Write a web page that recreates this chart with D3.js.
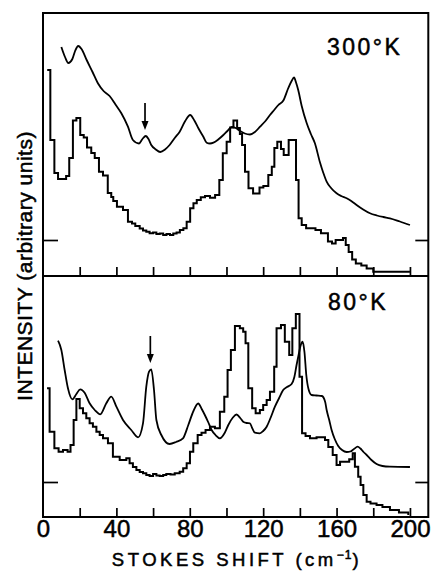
<!DOCTYPE html>
<html>
<head>
<meta charset="utf-8">
<script src="https://cdn.jsdelivr.net/npm/d3@7"></script>
<style>
  body { margin: 0; background: #fff; }
  text { font-family: "Liberation Sans", Arial, sans-serif; fill: #000; stroke: #000; stroke-width: 0.5px; }
</style>
</head>
<body>
<div id="chart"></div>
<script>
// Raman spectra (smooth) and histograms, 300K and 80K, intensity in arbitrary units

// x ticks
const minorTicks = [20, 40, 60, 80, 100, 120, 140, 160, 180, 200];
const tickLabels = [0, 40, 80, 120, 160, 200];
const baseLevel300 = 36;
const baseLevel80 = 35;

// 300K smooth spectrum [shift, intensity]
const smooth300 = [[10,229],[12,219],[13.8,213],[16,217],[17.5,225],[19.2,230],[21,227],[23.8,216],[27,204],[30,192.5],[33,185],[36.3,180],[39.5,171.5],[42.7,162.7],[46.3,149.3],[49,136],[52.3,132.5],[54.2,137],[56,140],[57.5,137],[59,131],[61.5,126.5],[63.9,124],[66.5,126.5],[69,131],[72,138.5],[74.5,144.3],[77.5,155],[80.2,161],[82.5,155.5],[84.7,147.7],[87.4,139.3],[89.2,133.3],[91,132.5],[92.9,133.3],[95.5,136.5],[98.3,141],[100.5,145],[102.9,149],[105,148],[107.4,145],[110,142.5],[112.8,141.5],[115.5,144],[118.3,149.3],[121,154.5],[123.7,161],[126,166],[128.3,171],[131,175.5],[133.7,188],[135.5,195],[136.8,198.5],[138,193],[139.1,186],[141,170],[143.7,153],[146,142],[148.2,132.7],[150.9,114],[152.8,103],[154.6,94.3],[157,88],[160,82.7],[162.5,80],[165.5,77.7],[168,75],[170.9,71],[174.5,66.5],[178.2,62.7],[182,60.5],[185.5,59],[189.1,57.7],[194.5,54.5],[200,51]];

// 300K histogram [bin start, intensity]
const hist300 = [[2.3,206],[4.0,136],[6.2,103],[8.2,97],[12.6,100],[14.3,118],[16.3,155.5],[18.2,158],[20.3,141],[22.2,138.5],[24.0,128.5],[26.3,123],[28.2,118],[30.5,104.3],[32.7,100.5],[35.3,83],[37.2,79],[38.3,75],[40.3,69.3],[43.6,66],[46.3,54.3],[48.5,52.5],[50.3,50],[52.7,47.5],[54.5,45.5],[56.3,44.3],[58.1,42.7],[60,43.5],[61.8,42],[63.6,42.5],[65.5,41],[67.3,42],[69.2,41],[71,42.5],[72.8,43.5],[74.6,46],[76.5,47.7],[78.3,54.3],[80.2,67.7],[82,72.7],[83.8,76],[86,78.7],[88.3,80],[91,78.3],[93.8,81],[96.1,96],[98,122.7],[100.1,134.3],[102,148.5],[103.8,155.5],[105.8,148],[107.3,142],[108.5,131],[110.1,104.3],[112,87.7],[114.5,82.5],[118,88.5],[120.1,90],[122.8,101],[124.7,109.3],[126.1,128],[127.7,134.3],[129.7,127],[131.2,121],[133.9,136],[137.9,96],[139.3,57.7],[141,51],[143.4,47.7],[148.5,46],[151.5,42.7],[155.3,34.5],[157.5,32.5],[159.5,36],[163.5,38],[165,31],[166.6,24],[168.5,16.5],[170.5,12.5],[173.5,10.5],[176.4,7.5],[180,4.3],[200,4.3]];

// 80K smooth spectrum
const smooth80 = [[8.2,176.3],[10,167],[11.8,147],[13.6,128.7],[16,117.7],[18.2,123],[20.3,127.7],[22.7,124.3],[25.4,113.7],[28.2,107],[31.2,102.7],[34.5,113.7],[37.2,120.3],[40,110.3],[43.6,97],[48.1,87],[51.8,79.7],[54.5,93.7],[56.3,130.3],[57.8,145.3],[59,147.7],[60.5,127],[61.8,97],[64.5,82],[69,73],[72.5,75],[76.3,78.7],[79.2,92],[82,106],[84.6,113.5],[86.5,108],[88.2,102],[90,95],[91.9,87],[94,82],[96.4,78.7],[99,84],[101,92],[103.5,99.5],[105.5,102.5],[107.5,99],[109.1,95.3],[111,94],[112.8,93.7],[114,89],[115.5,84.3],[118.2,83.7],[120,86],[121.9,90.3],[124,99],[126.4,110.3],[128.7,119],[130.9,127],[133,130],[135.5,133],[137,140],[138.2,152],[139.3,162],[140.5,172],[141.5,175.3],[142.5,165],[143.5,142],[144.7,128],[146.4,122],[149,121.5],[152,121],[153.8,115],[154.6,107],[156,97],[157.3,87],[159,78],[160.9,71],[163,67],[165.5,65],[167.5,65.5],[169.5,68],[171.5,70.3],[173,68.5],[174.7,65],[176.4,62],[179,57],[181.8,53],[185,51],[189.1,50.3],[200,50]];

// 80K histogram
const hist80 = [[2.2,128.7],[3.6,85.3],[6.2,68.7],[8.5,65.3],[10.9,67],[13.4,65.3],[15,72],[16.7,97],[18.2,118],[20,108.7],[21.8,103.7],[23.6,98.7],[25.4,93.7],[27.2,90.3],[29.1,85.3],[30.9,82],[32.7,78.7],[35.4,73.7],[38.1,60.3],[41.8,57],[45.4,58.7],[47.2,53.7],[49,50],[50.9,47],[52.7,45],[54.5,43.7],[56.3,42],[58.1,41],[60,43],[61.8,41.5],[63.6,41],[65.5,42],[67.2,43],[69.5,42.5],[71.8,43.7],[74.5,45.3],[76.4,48.7],[78.3,53.7],[80.1,65.3],[81.9,73.7],[84.3,82],[86.4,84.3],[88.6,87],[91,90.3],[93.7,88.7],[96.4,105.3],[98.8,120.3],[100.6,147],[102.4,167],[104.6,191],[107.3,188.7],[109.1,185.3],[110.4,173.7],[111.9,128.7],[114,108.7],[115.9,103.7],[118.2,107],[120,112],[121.9,117],[123.7,125.3],[126,150.3],[127.3,188.7],[129.7,192],[131.8,175.3],[134.2,162],[135.9,188.7],[137.8,203],[139.8,140.3],[141.2,83.7],[143.1,81],[145.5,78.7],[149.1,79.7],[153.7,77],[155.5,70],[157.9,62],[160,52],[161.9,55.3],[164.6,55.3],[166.9,57.7],[168.8,63.7],[170,50.3],[171.8,40.3],[173.1,32],[174.6,22],[176.4,15.3],[178.5,13.5],[181.8,12],[185,10],[189.1,7],[194,4.5],[199.1,2]];

// arrows marking the same line in both spectra [shift, tail, tip]
const arrow300 = [55.6, 173, 146];
const arrow80 = [58.5, 181, 154];

const width = 434, height = 572;
const svg = d3.select("#chart").append("svg")
  .attr("width", width)
  .attr("height", height);

svg.append("rect").attr("width", width).attr("height", height).attr("fill", "#fff");

const x = d3.scaleLinear().domain([0, 210]).range([43, 428.3]);
const yTop = d3.scaleLinear().domain([0, 263]).range([276, 13]);
const yBot = d3.scaleLinear().domain([0, 241]).range([517, 276]);

// one panel: ticks, both traces, arrow
function drawPanel(y, smooth, hist, base, arrow) {
  // ticks pointing up from panel floor
  svg.append("g")
    .attr("transform", `translate(0,${y.range()[0]})`)
    .call(d3.axisBottom(x).tickValues(minorTicks).tickSizeInner(-9).tickSizeOuter(0).tickFormat(""))
    .call(g => g.select(".domain").remove())
    .call(g => g.selectAll("line").attr("stroke-width", 1.7));

  // baseline markers on both sides
  svg.append("g")
    .attr("transform", `translate(${x.range()[0]},0)`)
    .call(d3.axisLeft(y).tickValues([base]).tickSizeInner(-15).tickSizeOuter(0).tickFormat(""))
    .call(g => g.select(".domain").remove())
    .call(g => g.selectAll("line").attr("stroke-width", 1.7));
  svg.append("g")
    .attr("transform", `translate(${x.range()[1]},0)`)
    .call(d3.axisRight(y).tickValues([base]).tickSizeInner(-13).tickSizeOuter(0).tickFormat(""))
    .call(g => g.select(".domain").remove())
    .call(g => g.selectAll("line").attr("stroke-width", 1.7));

  svg.append("path")
    .datum(hist)
    .attr("fill", "none")
    .attr("stroke", "#000")
    .attr("stroke-width", 2)
    .attr("d", d3.line()
      .curve(d3.curveStepAfter)
      .x(d => x(d[0]))
      .y(d => y(d[1])));

  svg.append("path")
    .datum(smooth)
    .attr("fill", "none")
    .attr("stroke", "#000")
    .attr("stroke-width", 1.8)
    .attr("d", d3.line()
      .curve(d3.curveMonotoneX)
      .x(d => x(d[0]))
      .y(d => y(d[1])));

  // arrow
  const ax = x(arrow[0]), ay0 = y(arrow[1]), ay1 = y(arrow[2]);
  svg.append("line")
    .attr("x1", ax).attr("x2", ax)
    .attr("y1", ay0).attr("y2", ay1 - 6)
    .attr("stroke", "#000").attr("stroke-width", 1.7);
  svg.append("path")
    .attr("d", `M${ax - 3.5},${ay1 - 9}L${ax + 3.5},${ay1 - 9}L${ax},${ay1}Z`)
    .attr("fill", "#000");
}

drawPanel(yTop, smooth300, hist300, baseLevel300, arrow300);
drawPanel(yBot, smooth80, hist80, baseLevel80, arrow80);

// frame and divider
svg.append("rect")
  .attr("x", x.range()[0]).attr("y", yTop.range()[1])
  .attr("width", x.range()[1] - x.range()[0])
  .attr("height", yBot.range()[0] - yTop.range()[1])
  .attr("fill", "none").attr("stroke", "#000").attr("stroke-width", 2);
svg.append("line")
  .attr("x1", x.range()[0]).attr("x2", x.range()[1])
  .attr("y1", yTop.range()[0]).attr("y2", yTop.range()[0])
  .attr("stroke", "#000").attr("stroke-width", 2);

// tick labels
svg.append("g")
  .attr("transform", `translate(0,${yBot.range()[0]})`)
  .call(d3.axisBottom(x).tickValues(tickLabels).tickSize(0).tickPadding(3))
  .call(g => g.select(".domain").remove())
  .call(g => g.selectAll("text")
    .attr("font-family", "Liberation Sans, Arial, sans-serif")
    .attr("font-size", 24)
    .attr("fill", "#000"));

// temperature labels
svg.append("text")
  .attr("x", 327).attr("y", 55)
  .attr("font-size", 23).attr("letter-spacing", 2.5)
  .text("300°K");
svg.append("text")
  .attr("x", 328).attr("y", 310)
  .attr("font-size", 23).attr("letter-spacing", 2.5)
  .text("80°K");

// axis titles
const xt = svg.append("text")
  .attr("x", 237).attr("y", 566)
  .attr("text-anchor", "middle")
  .attr("font-size", 18.5).attr("letter-spacing", 3.5);
xt.append("tspan").text("STOKES SHIFT (cm");
xt.append("tspan").attr("font-size", 12).attr("dy", -7).attr("letter-spacing", 1).text("−1");
xt.append("tspan").attr("dy", 7).text(")");

svg.append("text")
  .attr("transform", "translate(32,266) rotate(-90)")
  .attr("text-anchor", "middle")
  .attr("font-size", 21)
  .attr("letter-spacing", 0.5)
  .text("INTENSITY (arbitrary units)");
</script>
</body>
</html>
